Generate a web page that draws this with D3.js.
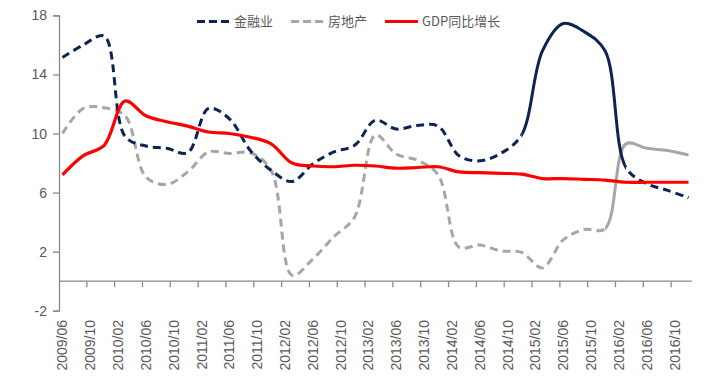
<!DOCTYPE html>
<html>
<head>
<meta charset="utf-8">
<script src="https://cdn.jsdelivr.net/npm/d3@7"></script>
<style>
  html, body { margin: 0; padding: 0; background: #fff; }
  svg text { font-family: "Liberation Sans", Arial, "Noto Sans CJK SC", sans-serif; fill: #595959; }
  .legend text { font-family: "Noto Sans CJK SC", sans-serif; }
</style>
</head>
<body>
<div id="chart"></div>
<script>
// quarterly observations (cumulative yoy growth, %)
const quarters = [
  "2009/06", "2009/09", "2009/12", "2010/03", "2010/06", "2010/09", "2010/12",
  "2011/03", "2011/06", "2011/09", "2011/12", "2012/03", "2012/06", "2012/09", "2012/12",
  "2013/03", "2013/06", "2013/09", "2013/12", "2014/03", "2014/06", "2014/09", "2014/12",
  "2015/03", "2015/06", "2015/09", "2015/12", "2016/03", "2016/06", "2016/09", "2016/12"
];
const finance = [
  15.15, 16.0, 16.6, 9.8, 9.15, 9.0, 8.7,
  11.7, 11.0, 8.85, 7.5, 6.75, 7.95, 8.75, 9.2,
  10.9, 10.3, 10.55, 10.5, 8.5, 8.15, 8.65, 9.9,
  15.6, 17.45, 16.9, 15.6, 7.7, 6.6, 6.15, 5.65
];
const realEstate = [
  10.0, 11.7, 11.75, 11.2, 7.05, 6.55, 7.4,
  8.75, 8.65, 8.7, 7.5, 0.4, 1.5, 3.0, 4.35,
  9.9, 8.6, 8.2, 7.2, 2.3, 2.45, 2.05, 1.95,
  0.9, 2.8, 3.5, 3.55, 9.3, 9.0, 8.85, 8.55
];
const gdp = [
  7.2, 8.5, 9.2, 12.2, 11.2, 10.8, 10.5,
  10.1, 10.0, 9.75, 9.3, 8.0, 7.8, 7.75, 7.85,
  7.8, 7.65, 7.7, 7.75, 7.4, 7.35, 7.3, 7.25,
  6.95, 6.95, 6.9, 6.85, 6.7, 6.7, 6.7, 6.7
];
const yTicks = [-2, 2, 6, 10, 14, 18];
const xTickLabels = [
  "2009/06", "2009/10", "2010/02", "2010/06", "2010/10", "2011/02", "2011/06", "2011/10",
  "2012/02", "2012/06", "2012/10", "2013/02", "2013/06", "2013/10", "2014/02", "2014/06",
  "2014/10", "2015/02", "2015/06", "2015/10", "2016/02", "2016/06", "2016/10"
];
const seriesNames = ["金融业", "房地产", "GDP同比增长"];
// quarter ranges drawn as solid line instead of dashed
const financeSolid = ["2014/12", "2016/03"];
const realEstateSolid = ["2015/12", "2016/12"];

const width = 710, height = 378;
const svg = d3.select("#chart").append("svg")
  .attr("width", width)
  .attr("height", height);

// monthly category axis
const fmt = d3.timeFormat("%Y/%m");
const months = d3.timeMonth.range(new Date(2009, 5, 1), new Date(2017, 0, 1)).map(fmt);

const x = d3.scaleBand().domain(months).range([59, 692]);
const y = d3.scaleLinear().domain([-2, 18]).range([310.7, 15.4]);
const cx = m => x(m) + x.bandwidth() / 2;

const axisColor = "#898989";

// y axis
const yAxis = svg.append("g")
  .attr("transform", "translate(59,0)")
  .call(d3.axisLeft(y).tickValues(yTicks).tickFormat(d => String(d)).tickSize(6).tickPadding(6));
yAxis.select(".domain").attr("stroke", axisColor).attr("stroke-width", 1.3);
yAxis.selectAll(".tick line").attr("stroke", axisColor).attr("stroke-width", 1.3);
yAxis.selectAll(".tick text").attr("font-size", 14).style("fill", "#595959");

// x axis line at zero
svg.append("line")
  .attr("x1", 59).attr("x2", 692)
  .attr("y1", y(0)).attr("y2", y(0))
  .attr("stroke", axisColor).attr("stroke-width", 1.3);

svg.append("g").selectAll("line")
  .data(xTickLabels.slice(1))
  .join("line")
  .attr("x1", d => x(d)).attr("x2", d => x(d))
  .attr("y1", y(0)).attr("y2", y(0) + 6)
  .attr("stroke", axisColor).attr("stroke-width", 1.3);

svg.append("g").selectAll("text")
  .data(xTickLabels)
  .join("text")
  .attr("transform", d => `translate(${cx(d)},320) rotate(-90)`)
  .attr("text-anchor", "end")
  .attr("dy", "0.35em")
  .attr("font-size", 14)
  .text(d => d);

// lines
const line = d3.line()
  .x(d => cx(d.q))
  .y(d => y(d.v))
  .curve(d3.curveCatmullRom);

const toPts = vals => quarters.map((q, i) => ({ q, v: vals[i] }));

const defs = svg.append("defs");
function clip(id, x0, x1) {
  defs.append("clipPath").attr("id", id)
    .append("rect")
    .attr("x", x0).attr("y", 0)
    .attr("width", x1 - x0).attr("height", height);
}

function drawSeries(vals, color, solidRange, key) {
  const pts = toPts(vals);
  const a = cx(solidRange[0]), b = cx(solidRange[1]);
  clip(key + "-in", a, b);
  clip(key + "-l", 0, a);
  clip(key + "-r", b, width);
  [key + "-l", key + "-r"].forEach(c => {
    svg.append("path")
      .datum(pts)
      .attr("clip-path", `url(#${c})`)
      .attr("fill", "none")
      .attr("stroke", color)
      .attr("stroke-width", 3)
      .attr("stroke-dasharray", "8,5")
      .attr("d", line);
  });
  svg.append("path")
    .datum(pts)
    .attr("clip-path", `url(#${key}-in)`)
    .attr("fill", "none")
    .attr("stroke", color)
    .attr("stroke-width", 3)
    .attr("d", line);
}

drawSeries(realEstate, "#a6a6a6", realEstateSolid, "re");
drawSeries(finance, "#0c2454", financeSolid, "fin");

svg.append("path")
  .datum(toPts(gdp))
  .attr("fill", "none")
  .attr("stroke", "#ff0000")
  .attr("stroke-width", 3.2)
  .attr("d", line);

// legend
const legendItems = [
  { name: seriesNames[0], color: "#0c2454", dash: "8,4" },
  { name: seriesNames[1], color: "#a6a6a6", dash: "8,4" },
  { name: seriesNames[2], color: "#ff0000", dash: null }
];
const legend = svg.append("g").attr("class", "legend");
let lx = 197;
legendItems.forEach(item => {
  legend.append("line")
    .attr("x1", lx).attr("x2", lx + 33)
    .attr("y1", 21.5).attr("y2", 21.5)
    .attr("stroke", item.color)
    .attr("stroke-width", 3)
    .attr("stroke-dasharray", item.dash);
  const t = legend.append("text")
    .attr("x", lx + 37)
    .attr("y", 21.5)
    .attr("dy", "0.35em")
    .attr("font-size", 13)
    .text(item.name);
  lx += 37 + t.node().getComputedTextLength() + 18;
});
</script>
</body>
</html>
